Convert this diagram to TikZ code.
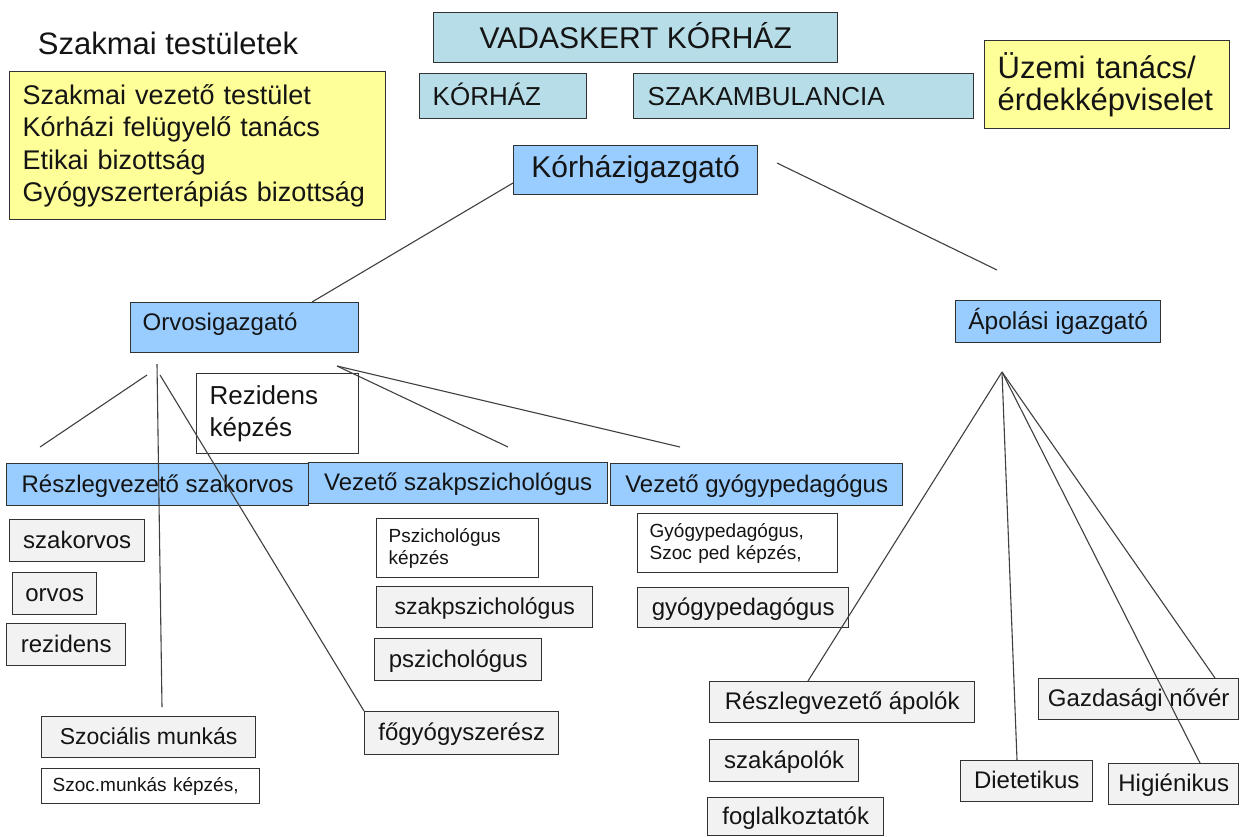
\documentclass[tikz,border=0pt]{standalone}
\usepackage{fontspec}
\setmainfont{Liberation Sans}
\definecolor{tealf}{RGB}{183,222,232}
\definecolor{bluef}{RGB}{153,204,255}
\definecolor{yellowf}{RGB}{255,255,153}
\definecolor{grayf}{RGB}{242,242,242}
\definecolor{edge}{RGB}{50,50,50}
\definecolor{ink}{RGB}{20,20,20}
\begin{document}
\begin{tikzpicture}[x=1pt,y=-1pt,
  bx/.style={draw=edge, line width=1.4pt, inner sep=0pt, anchor=north west, text=ink},
  tealbox/.style={bx, fill=tealf},
  bluebox/.style={bx, fill=bluef},
  yellowbox/.style={bx, fill=yellowf},
  graybox/.style={bx, fill=grayf},
  whitebox/.style={bx, fill=white},
  f24/.style={font=\fontsize{24}{28}\selectfont, text height=18pt, text depth=3pt},
  conn/.style={draw=black!75, line width=1.1pt}
]
\fill[white] (0,0) rectangle (1241,836);
\useasboundingbox (0,0) rectangle (1241,836);

% top area
\node[font=\fontsize{31}{36}\selectfont, text=ink] (title) at (168,43) {Szakmai testületek};
\node[yellowbox, minimum width=376pt, minimum height=148pt, text width=350pt, inner xsep=13pt,
      align=left, font=\fontsize{27}{32.5}\selectfont] (ybox) at (9,71)
  {Szakmai vezető testület\\Kórházi felügyelő tanács\\Etikai bizottság\\Gyógyszerterápiás bizottság};
\node[tealbox, minimum width=404pt, minimum height=50pt, font=\fontsize{30}{36}\selectfont,
      text height=21.5pt, text depth=0pt] (vk) at (433,12) {VADASKERT KÓRHÁZ};
\node[tealbox, minimum width=167pt, minimum height=45pt, text width=141pt, inner xsep=13pt, align=left,
      font=\fontsize{26}{30}\selectfont, text height=18.6pt, text depth=0pt] (korhaz) at (419,73) {KÓRHÁZ};
\node[tealbox, minimum width=340pt, minimum height=45pt, text width=312pt, inner xsep=14pt, align=left,
      font=\fontsize{26}{30}\selectfont, text height=18.6pt, text depth=0pt] (szakamb) at (633,73) {SZAKAMBULANCIA};
\node[yellowbox, minimum width=245pt, minimum height=88pt, text width=219pt, inner xsep=13pt, align=left,
      font=\fontsize{31}{32}\selectfont] (uzemi) at (984,40) {Üzemi tanács/\\érdekképviselet};
\node[bluebox, minimum width=244pt, minimum height=49pt, font=\fontsize{30}{36}\selectfont,
      text height=21.5pt, text depth=6.5pt] (kig) at (513,145) {Kórházigazgató};

% directors
\node[bluebox, minimum width=228pt, minimum height=50pt, text width=204pt, inner xsep=12pt, align=left,
      font=\fontsize{24}{28}\selectfont, text height=18pt, text depth=12pt] (orvig) at (130,302) {Orvosigazgató};
\node[bluebox, minimum width=205pt, minimum height=42pt, font=\fontsize{24.5}{28}\selectfont,
      text height=18pt, text depth=3pt] (apig) at (955,300) {Ápolási igazgató};
\node[whitebox, minimum width=162pt, minimum height=80pt, text width=136pt, inner xsep=13pt, align=left,
      font=\fontsize{26}{32}\selectfont] (rezkep) at (196,373) {Rezidens\\képzés};

% blue row
\node[bluebox, f24, minimum width=302pt, minimum height=42pt] (reszszak) at (6,463) {Részlegvezető szakorvos};
\node[bluebox, f24, minimum width=299pt, minimum height=41pt] (vezpsz) at (308,462) {Vezető szakpszichológus};
\node[bluebox, f24, minimum width=292pt, minimum height=42pt] (vezgyp) at (610,463) {Vezető gyógypedagógus};

% left column
\node[graybox, f24, minimum width=135pt, minimum height=42pt] (szakorv) at (9,519) {szakorvos};
\node[graybox, f24, minimum width=84pt, minimum height=42pt] (orvos) at (12,572) {orvos};
\node[graybox, f24, minimum width=119pt, minimum height=42pt] (rezid) at (6,623) {rezidens};
\node[graybox, font=\fontsize{23}{28}\selectfont, text height=17pt, text depth=3pt,
      minimum width=214pt, minimum height=41pt] (szocm) at (41,716) {Szociális munkás};
\node[whitebox, minimum width=218pt, minimum height=35pt, text width=196pt, inner xsep=11pt, align=left,
      font=\fontsize{19}{22}\selectfont, text height=14pt, text depth=4pt] (szockep) at (41,768) {Szoc.munkás képzés,};

% psychology column
\node[whitebox, minimum width=162pt, minimum height=59pt, text width=138pt, inner xsep=12pt, align=left,
      font=\fontsize{19}{22}\selectfont] (pszkep) at (376,518) {Pszichológus\\képzés};
\node[graybox, font=\fontsize{23}{28}\selectfont, text height=17pt, text depth=3pt,
      minimum width=216pt, minimum height=41pt] (szakpsz) at (376,586) {szakpszichológus};
\node[graybox, f24, minimum width=167pt, minimum height=42pt] (pszich) at (374,638) {pszichológus};
\node[graybox, f24, minimum width=194pt, minimum height=43pt] (fogy) at (364,711) {főgyógyszerész};

% special pedagogy column
\node[whitebox, minimum width=200pt, minimum height=59pt, text width=176pt, inner xsep=12pt, align=left,
      font=\fontsize{19}{22}\selectfont] (gypkep) at (637,513) {Gyógypedagógus,\\Szoc ped képzés,};
\node[graybox, f24, minimum width=211pt, minimum height=40pt] (gyped) at (637,587) {gyógypedagógus};

% nursing
\node[graybox, f24, minimum width=265pt, minimum height=41pt] (reszap) at (709,681) {Részlegvezető ápolók};
\node[graybox, f24, minimum width=149pt, minimum height=42pt] (szakap) at (709,739) {szakápolók};
\node[graybox, f24, minimum width=176pt, minimum height=38pt] (foglal) at (707,797) {foglalkoztatók};
\node[graybox, f24, minimum width=200pt, minimum height=41pt] (gazd) at (1038,678) {Gazdasági nővér};
\node[graybox, f24, minimum width=132pt, minimum height=41pt] (diet) at (960,760) {Dietetikus};
\node[graybox, f24, minimum width=130pt, minimum height=41pt] (higi) at (1108,763) {Higiénikus};

% free line ends
\coordinate (k2a) at (777,163);
\coordinate (k2b) at (997,270);
\coordinate (o1a) at (147,375);
\coordinate (o1b) at (40,447);
\coordinate (o2a) at (157,364);
\coordinate (o2b) at (162,707);
\coordinate (o3a) at (160,375);
\coordinate (o4) at (337,366);
\coordinate (o4b) at (508,447);
\coordinate (o5b) at (680,447);
\coordinate (ap) at (1002,372);

% connectors
\draw[conn] ([yshift=-38pt]kig.north west) -- ([xshift=182pt]orvig.north west);
\draw[conn] (k2a) -- (k2b);
\draw[conn] (o1a) -- (o1b);
\draw[conn] (o2a) -- (o2b);
\draw[conn] (o3a) -- (fogy.north west);
\draw[conn] (o4) -- (o4b);
\draw[conn] (o4) -- (o5b);
\draw[conn] (ap) -- ([xshift=99pt]reszap.north west);
\draw[conn] (ap) -- ([xshift=57pt]diet.north west);
\draw[conn] (ap) -- ([xshift=92pt]higi.north west);
\draw[conn] (ap) -- ([xshift=177pt]gazd.north west);
\end{tikzpicture}
\end{document}
